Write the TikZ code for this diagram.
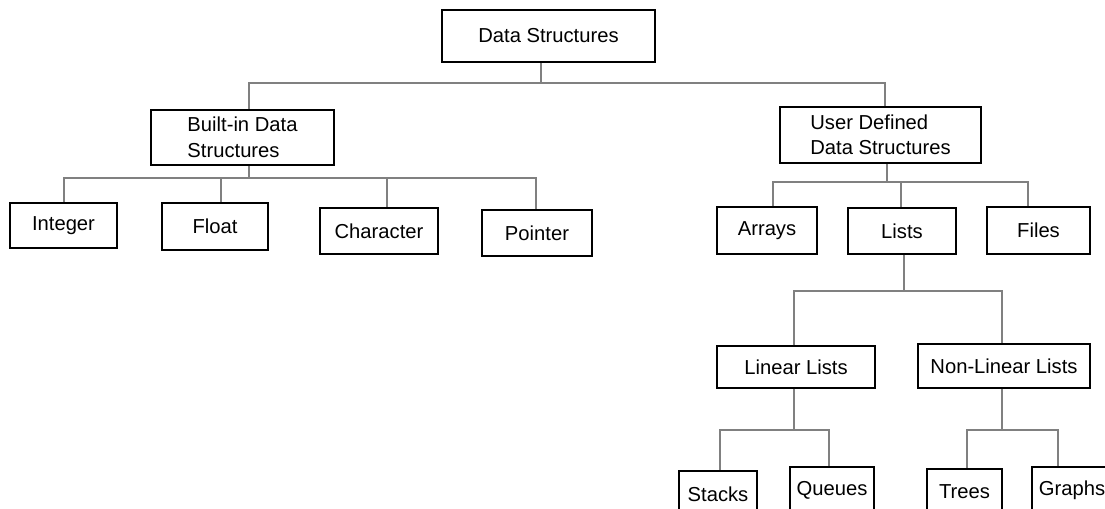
\documentclass[tikz,border=0pt]{standalone}
\usepackage{fontspec}
\setmainfont{Liberation Sans}

\begin{document}
\begin{tikzpicture}[
		x=0.02cm, y=-0.02cm,
		every node/.style={rectangle, draw, line width=1pt, inner sep=0pt, align=left, font=\fontsize{11.5}{14.5}\selectfont},
		link/.style={draw=gray, line width=0.8pt}
	]
  \useasboundingbox (0,0) rectangle (1105,508);
  \clip (0,0) rectangle (1105,508);
  % boxes
  \node (ds) [minimum width=4.26cm, minimum height=1.04cm] at (548.5,36) {Data Structures};
  \node (bids) [minimum width=3.66cm, minimum height=1.10cm] at (242.5,137.5) {Built-in Data\\Structures};
  \node (udds) [minimum width=4.02cm, minimum height=1.12cm] at (880.5,135) {User Defined\\Data Structures};
  \node (int) [minimum width=2.14cm, minimum height=0.90cm] at (63.5,225.5) {Integer};
  \node (flt) [minimum width=2.12cm, minimum height=0.94cm] at (215,226.5) {Float};
  \node (chr) [minimum width=2.36cm, minimum height=0.92cm] at (379,231) {Character};
  \node (ptr) [minimum width=2.20cm, minimum height=0.92cm] at (537,233) {Pointer};
  \node (arr) [minimum width=2.00cm, minimum height=0.94cm] at (767,230.5) {Arrays};
  \node (lst) [minimum width=2.16cm, minimum height=0.92cm] at (902,231) {Lists};
  \node (fil) [minimum width=2.06cm, minimum height=0.94cm] at (1038.5,230.5) {Files};
  \node (lin) [minimum width=3.16cm, minimum height=0.84cm] at (796,367) {Linear Lists};
  \node (nlin) [minimum width=3.44cm, minimum height=0.88cm] at (1004,366) {Non-Linear Lists};
  \node (stk) [minimum width=1.56cm, minimum height=0.92cm] at (718,494) {Stacks};
  \node (que) [minimum width=1.68cm, minimum height=0.92cm] at (832,490) {Queues};
  \node (tre) [minimum width=1.50cm, minimum height=0.92cm] at (964.5,492) {Trees};
  \node (gra) [minimum width=1.60cm, minimum height=0.92cm] at (1072,490) {Graphs};
  % bars
  \coordinate (b0) at (541,83);
  \coordinate (b1) at (249,178);
  \coordinate (b2) at (887,182);
  \coordinate (b3) at (904,291);
  \coordinate (b4) at (794,430);
  \coordinate (b5) at (1002,430);
  % connectors
  \draw[link] (ds.south -| b0) -- (b0);
  \draw[link] (bids.south -| b1) -- (b1);
  \draw[link] (udds.south -| b2) -- (b2);
  \draw[link] (lst.south -| b3) -- (b3);
  \draw[link] (lin.south -| b4) -- (b4);
  \draw[link] (nlin.south -| b5) -- (b5);
  \foreach \c/\s in {bids/6.5, udds/4.5}
    \draw[link] ([xshift=\s*0.02cm]\c.north) |- (b0);
  \foreach \c/\s in {int/0.5, flt/6, chr/8, ptr/-1}
    \draw[link] ([xshift=\s*0.02cm]\c.north) |- (b1);
  \foreach \c/\s in {arr/6, lst/-1, fil/-10.5}
    \draw[link] ([xshift=\s*0.02cm]\c.north) |- (b2);
  \foreach \c/\s in {lin/-2, nlin/-2}
    \draw[link] ([xshift=\s*0.02cm]\c.north) |- (b3);
  \foreach \c/\s in {stk/2, que/-3}
    \draw[link] ([xshift=\s*0.02cm]\c.north) |- (b4);
  \foreach \c/\s in {tre/2.5, gra/-14}
    \draw[link] ([xshift=\s*0.02cm]\c.north) |- (b5);
\end{tikzpicture}
\end{document}
